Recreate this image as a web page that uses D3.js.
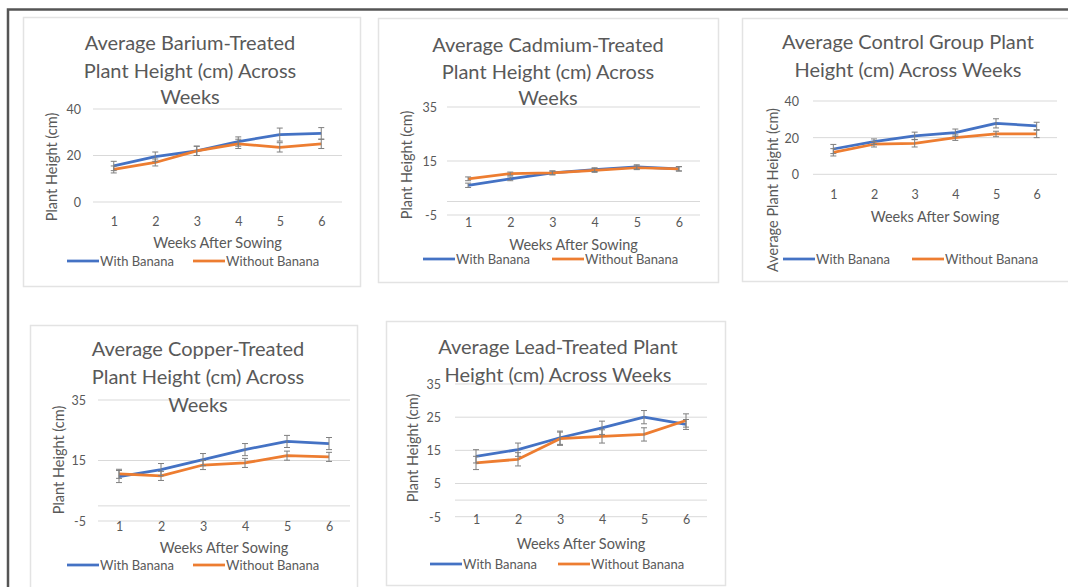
<!DOCTYPE html>
<html><head><meta charset="utf-8">
<script src="https://cdn.jsdelivr.net/npm/d3@7"></script>
<style>
body{margin:0;background:#fff;}
svg text{font-family:Lato,"Open Sans",sans-serif;fill:#595959;}
</style></head>
<body>
<svg id="c" width="1068" height="587"></svg>
<script>
// ---------- DATA ----------
const weeks = [1, 2, 3, 4, 5, 6];
const seriesNames = ["With Banana", "Without Banana"];
const xTitle = "Weeks After Sowing";

const bariumTitle = ["Average Barium-Treated", "Plant Height (cm) Across", "Weeks"];
const bariumWith = [15.5, 19.5, 22, 26, 29, 29.5];
const bariumWithErr = [2, 2, 2, 2, 2.8, 2.5];
const bariumWithout = [14, 17, 22, 25, 23.5, 25];
const bariumWithoutErr = [1.5, 1.5, 2, 2, 2, 2];
const bariumTicks = [0, 20, 40];

const cadmiumTitle = ["Average Cadmium-Treated", "Plant Height (cm) Across", "Weeks"];
const cadmiumWith = [6, 8.4, 10.6, 11.8, 12.8, 12.1];
const cadmiumWithErr = [0.8, 0.7, 0.7, 0.7, 0.8, 0.8];
const cadmiumWithout = [8.4, 10.3, 10.6, 11.5, 12.5, 12.1];
const cadmiumWithoutErr = [0.7, 0.6, 0.7, 0.7, 0.7, 0.8];
const cadmiumTicks = [-5, 15, 35];

const controlTitle = ["Average Control Group Plant", "Height (cm) Across Weeks"];
const controlWith = [13.8, 17.8, 21, 22.7, 27.8, 26.4];
const controlWithErr = [2.5, 1.5, 2, 2, 2.5, 2];
const controlWithout = [12, 16.4, 16.9, 20, 22, 22];
const controlWithoutErr = [2, 1.5, 2, 1.5, 1.5, 2];
const controlTicks = [0, 20, 40];

const copperTitle = ["Average Copper-Treated", "Plant Height (cm) Across", "Weeks"];
const copperWith = [9.7, 12, 15.3, 18.6, 21.3, 20.6];
const copperWithErr = [2, 2, 2, 2, 2, 2];
const copperWithout = [10.6, 9.9, 13.5, 14.2, 16.6, 16.2];
const copperWithoutErr = [1.5, 1.5, 1.5, 1.5, 1.5, 1.5];
const copperTicks = [-5, 15, 35];

const leadTitle = ["Average Lead-Treated Plant", "Height (cm) Across Weeks"];
const leadWith = [13.2, 15.2, 18.8, 21.8, 25, 22.8];
const leadWithErr = [2, 2, 2, 2, 2, 1.5];
const leadWithout = [11.2, 12.3, 18.5, 19.2, 19.8, 24];
const leadWithoutErr = [2, 2, 2, 2, 2, 2];
const leadTicks = [-5, 5, 15, 25, 35];

// ---------- LAYOUT ----------
const colors = ["#4472C4", "#ED7D31"];
const panels = [
  {title: bariumTitle, w: bariumWith, we: bariumWithErr, wo: bariumWithout, woe: bariumWithoutErr, ticks: bariumTicks, yTitle: "Plant Height (cm)",
   box: [23, 17, 360, 286], px: [93, 342], py: [202, 109], titleX: 190, titleY: [43, 71, 97], labY: 222, xtY: 243, ytX: 52, ytY: 167, legY: 261, leg: [67, 193], yOff: 12},
  {title: cadmiumTitle, w: cadmiumWith, we: cadmiumWithErr, wo: cadmiumWithout, woe: cadmiumWithoutErr, ticks: cadmiumTicks, yTitle: "Plant Height (cm)",
   box: [378, 18, 718, 282], px: [447, 700], py: [215, 107], titleX: 548, titleY: [45, 72, 98], labY: 223, xtY: 245, ytX: 407, ytY: 165, legY: 259, leg: [423, 552], yOff: 10},
  {title: controlTitle, w: controlWith, we: controlWithErr, wo: controlWithout, woe: controlWithoutErr, ticks: controlTicks, yTitle: "Average Plant Height (cm)",
   box: [742, 18, 1075, 281], px: [813, 1057], py: [174.3, 101], titleX: 908, titleY: [42, 70], labY: 195, xtY: 217, ytX: 773, ytY: 190, legY: 259, leg: [783, 912], yOff: 14},
  {title: copperTitle, w: copperWith, we: copperWithErr, wo: copperWithout, woe: copperWithoutErr, ticks: copperTicks, yTitle: "Plant Height (cm)",
   box: [30, 325, 357, 590], px: [98, 350], py: [521, 400], titleX: 198, titleY: [349, 377, 405], labY: 527, xtY: 548, ytX: 59, ytY: 460, legY: 565, leg: [67, 193], yOff: 12},
  {title: leadTitle, w: leadWith, we: leadWithErr, wo: leadWithout, woe: leadWithoutErr, ticks: leadTicks, yTitle: "Plant Height (cm)",
   box: [386, 321, 725, 585], px: [455, 707], py: [516.7, 384], titleX: 558, titleY: [347, 375], labY: 520, xtY: 544, ytX: 413, ytY: 448, legY: 564, leg: [430, 558], yOff: 14}
];

const svg = d3.select("#c");

// outer frame
svg.append("path").attr("d", "M8,588 V9.5 H1070").attr("fill", "none").attr("stroke", "#555").attr("stroke-width", 2.5);

panels.forEach(p => {
  const g = svg.append("g");
  const [x0, y0, x1, y1] = p.box;
  g.append("rect").attr("x", x0 + 0.5).attr("y", y0 + 0.5).attr("width", x1 - x0).attr("height", y1 - y0)
    .attr("fill", "#fff").attr("stroke", "#e3e3e3").attr("stroke-width", 1.5);

  const x = d3.scalePoint().domain(weeks).range(p.px).padding(0.5);
  const y = d3.scaleLinear().domain([p.ticks[0], p.ticks[p.ticks.length - 1]]).range(p.py);

  // gridlines
  const grid = p.ticks.slice();
  if (!grid.includes(0)) grid.push(0);
  g.selectAll(".grid").data(grid).join("line")
    .attr("x1", p.px[0]).attr("x2", p.px[1])
    .attr("y1", d => y(d)).attr("y2", d => y(d))
    .attr("stroke", "#d9d9d9").attr("stroke-width", 1);

  // y axis tick labels
  const yAx = d3.axisLeft(y).tickValues(p.ticks).tickSize(0).tickPadding(0).tickFormat(d => String(d));
  const ya = g.append("g").attr("transform", `translate(${p.px[0] - p.yOff},0)`).call(yAx);
  ya.select(".domain").remove();
  ya.selectAll("text").style("font-size", "12.5px").attr("fill", "#595959").attr("dy", "0.35em");

  // x axis tick labels
  const xAx = d3.axisBottom(x).tickSize(0).tickPadding(0);
  const xa = g.append("g").attr("transform", `translate(0,${p.labY})`).call(xAx);
  xa.select(".domain").remove();
  xa.selectAll("text").style("font-size", "12.5px").attr("fill", "#595959").attr("dy", "0.35em");

  // titles
  const t = g.append("text").attr("text-anchor", "middle").style("font-size", "20px");
  p.title.forEach((line, i) => t.append("tspan").attr("x", p.titleX).attr("y", p.titleY[i]).attr("dy", "0.35em").text(line));

  g.append("text").attr("x", (p.px[0] + p.px[1]) / 2 + 0).attr("y", p.xtY).attr("dy", "0.35em")
    .attr("text-anchor", "middle").style("font-size", "14.5px").text(xTitle);
  g.append("text").attr("transform", `translate(${p.ytX},${p.ytY}) rotate(-90)`).attr("dy", "0.35em")
    .attr("text-anchor", "middle").style("font-size", "14.5px").text(p.yTitle);

  // series
  const series = [{v: p.w, e: p.we, c: colors[0]}, {v: p.wo, e: p.woe, c: colors[1]}];
  const line = d3.line().x((d, i) => x(weeks[i])).y(d => y(d));
  series.forEach(s => {
    g.append("path").datum(s.v).attr("d", line).attr("fill", "none").attr("stroke", s.c).attr("stroke-width", 2.75).attr("stroke-linejoin", "round");
  });
  series.forEach(s => {
    const eb = g.append("g").attr("stroke", "#7f7f7f").attr("stroke-width", 1);
    s.v.forEach((v, i) => {
      const cx = x(weeks[i]);
      eb.append("line").attr("x1", cx).attr("x2", cx).attr("y1", y(v - s.e[i])).attr("y2", y(v + s.e[i]));
      eb.append("line").attr("x1", cx - 3).attr("x2", cx + 3).attr("y1", y(v - s.e[i])).attr("y2", y(v - s.e[i]));
      eb.append("line").attr("x1", cx - 3).attr("x2", cx + 3).attr("y1", y(v + s.e[i])).attr("y2", y(v + s.e[i]));
    });
  });

  // legend
  seriesNames.forEach((n, i) => {
    const lx = p.leg[i];
    g.append("line").attr("x1", lx).attr("x2", lx + 32).attr("y1", p.legY).attr("y2", p.legY)
      .attr("stroke", colors[i]).attr("stroke-width", 2.75);
    g.append("text").attr("x", lx + 33).attr("y", p.legY).attr("dy", "0.35em").style("font-size", "13px").text(n);
  });
});
</script>
</body></html>
